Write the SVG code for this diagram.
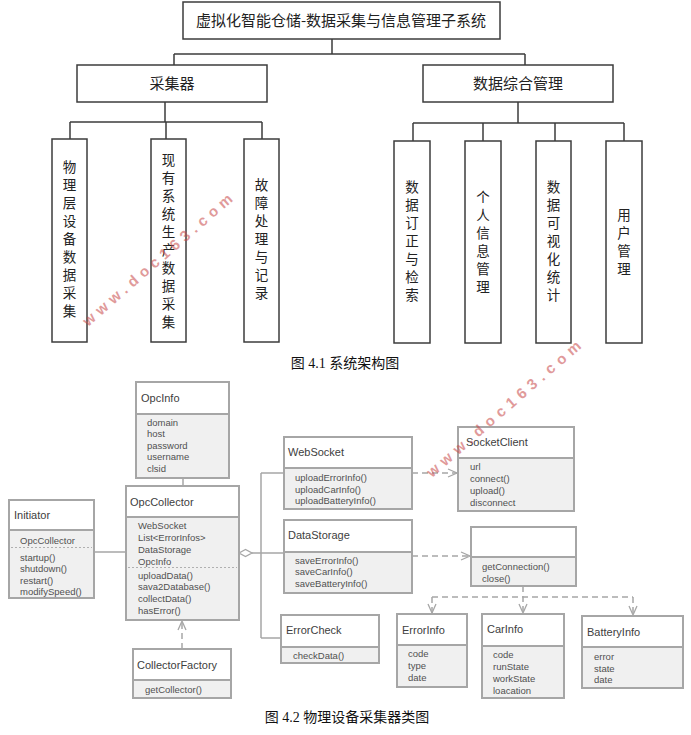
<svg xmlns="http://www.w3.org/2000/svg" width="691" height="735" viewBox="0 0 691 735">
<style>
.bx{fill:#fff;stroke:#3c3c3c;stroke-width:1.5}
.ln{fill:none;stroke:#3c3c3c;stroke-width:1.5}
.cj{font-family:"Noto Sans CJK SC",sans-serif;font-size:15px;fill:#222}
.vt{font-family:"Noto Sans CJK SC",sans-serif;font-size:13.5px;fill:#222;writing-mode:vertical-rl;letter-spacing:4.5px}
.cap{font-family:"Liberation Serif","Noto Sans CJK SC",serif;font-size:14px;fill:#111;text-anchor:middle}
.body{fill:#f0f0f0;stroke:#a6a6a6;stroke-width:2}
.head{fill:#fff;stroke:#a6a6a6;stroke-width:2}
.tt{font-family:"Liberation Sans",Arial,sans-serif;font-size:11px;fill:#404040}
.mb{font-family:"Liberation Sans",Arial,sans-serif;font-size:9.5px;fill:#505050}
.cl{fill:none;stroke:#a6a6a6;stroke-width:1.5}
.ds{fill:none;stroke:#a6a6a6;stroke-width:1.5;stroke-dasharray:6 4}
.sep{stroke:#b0b0b0;stroke-width:1;stroke-dasharray:2 2}
.wm{font-family:"Liberation Sans",Arial,sans-serif;font-size:15px;font-weight:bold;fill:#c84848;opacity:0.55}
</style>
<defs>
<marker id="oa" markerUnits="userSpaceOnUse" markerWidth="12" markerHeight="12" viewBox="0 0 12 12" refX="10" refY="5" orient="auto">
<path d="M1,1 L10,5 L1,9" fill="none" stroke="#a6a6a6" stroke-width="1.3"/>
</marker>
</defs>

<g id="arch-connectors">
<path class="ln" d="M332,39 V54 M174,54 H525 M174,54 V65 M525,54 V65"/>
<path class="ln" d="M165,102 V122 M70,122 H262 M70,122 V139 M166,122 V139 M262,122 V139"/>
<path class="ln" d="M518,102 V123 M413,123 H624 M413,123 V141 M483,123 V141 M555,123 V141 M624,123 V141"/>
</g>

<g id="root">
<rect class="bx" x="183" y="2" width="317" height="37"/>
<text class="cj" x="341" y="26" text-anchor="middle">虚拟化智能仓储-数据采集与信息管理子系统</text>
</g>
<g id="collector">
<rect class="bx" x="77" y="65" width="190" height="37"/>
<text class="cj" x="172" y="89" text-anchor="middle">采集器</text>
</g>
<g id="datamgmt">
<rect class="bx" x="423" y="65" width="190" height="37"/>
<text class="cj" x="518" y="89" text-anchor="middle">数据综合管理</text>
</g>

<g id="leaf1">
<rect class="bx" x="52" y="139" width="35" height="203"/>
<text class="vt" x="69.5" y="160">物理层设备数据采集</text>
</g>
<g id="leaf2">
<rect class="bx" x="151" y="139" width="35" height="203"/>
<text class="vt" x="168.5" y="153">现有系统生产数据采集</text>
</g>
<g id="leaf3">
<rect class="bx" x="244" y="139" width="35" height="203"/>
<text class="vt" x="261.5" y="178">故障处理与记录</text>
</g>
<g id="leaf4">
<rect class="bx" x="394" y="141" width="36" height="202"/>
<text class="vt" x="412" y="180">数据订正与检索</text>
</g>
<g id="leaf5">
<rect class="bx" x="465" y="141" width="36" height="202"/>
<text class="vt" x="483" y="190">个人信息管理</text>
</g>
<g id="leaf6">
<rect class="bx" x="536" y="141" width="35" height="202"/>
<text class="vt" x="553.5" y="180">数据可视化统计</text>
</g>
<g id="leaf7">
<rect class="bx" x="606" y="141" width="36" height="202"/>
<text class="vt" x="624" y="208">用户管理</text>
</g>

<text class="cap" x="345" y="368">图 4.1 系统架构图</text>

<g id="class-connectors">
<path class="cl" d="M183,478 V486"/>
<path class="cl" d="M94,552 H126"/>
<path class="cl" d="M252,553 H284 M261,473 V638 M261,473 H284 M261,638 H281"/>
<polygon points="239,553 245.5,549.5 252,553 245.5,556.5" fill="#fff" stroke="#a6a6a6" stroke-width="1.3"/>
<path class="ds" d="M412,473 H457" marker-end="url(#oa)"/>
<path class="ds" d="M412,556 H470" marker-end="url(#oa)"/>
<path class="ds" d="M523,586 V613" marker-end="url(#oa)"/>
<path class="ds" d="M432,597 H633"/>
<path class="ds" d="M432,597 V613" marker-end="url(#oa)"/>
<path class="ds" d="M633,597 V615" marker-end="url(#oa)"/>
<path class="ds" d="M182,649 V621" marker-end="url(#oa)"/>
</g>

<g id="OpcInfo">
<rect class="body" x="136" y="382" width="93" height="96"/>
<rect class="head" x="136" y="382" width="93" height="32"/>
<text class="tt" x="141" y="402">OpcInfo</text>
<text class="mb"><tspan x="147" y="425.5">domain</tspan><tspan x="147" y="437">host</tspan><tspan x="147" y="448.5">password</tspan><tspan x="147" y="460">username</tspan><tspan x="147" y="471.5">clsid</tspan></text>
</g>

<g id="OpcCollector">
<rect class="body" x="126" y="486" width="113" height="134"/>
<rect class="head" x="126" y="486" width="113" height="31"/>
<text class="tt" x="130" y="506">OpcCollector</text>
<text class="mb"><tspan x="138" y="528.5">WebSocket</tspan><tspan x="138" y="540.5">List&lt;ErrorInfos&gt;</tspan><tspan x="138" y="552.5">DataStorage</tspan><tspan x="138" y="564.5">OpcInfo</tspan></text>
<line class="sep" x1="128" y1="567.5" x2="237" y2="567.5"/>
<text class="mb"><tspan x="138" y="578.5">uploadData()</tspan><tspan x="138" y="590">sava2Database()</tspan><tspan x="138" y="602">collectData()</tspan><tspan x="138" y="614">hasError()</tspan></text>
</g>

<g id="Initiator">
<rect class="body" x="9" y="500" width="85" height="98"/>
<rect class="head" x="9" y="500" width="85" height="30"/>
<text class="tt" x="14" y="519">Initiator</text>
<text class="mb" x="20" y="543.5">OpcCollector</text>
<line class="sep" x1="11" y1="547.5" x2="92" y2="547.5"/>
<text class="mb"><tspan x="20" y="560.5">startup()</tspan><tspan x="20" y="572">shutdown()</tspan><tspan x="20" y="583.5">restart()</tspan><tspan x="20" y="595">modifySpeed()</tspan></text>
</g>

<g id="WebSocket">
<rect class="body" x="284" y="437" width="128" height="72"/>
<rect class="head" x="284" y="437" width="128" height="31"/>
<text class="tt" x="288" y="456">WebSocket</text>
<text class="mb"><tspan x="295" y="480.5">uploadErrorInfo()</tspan><tspan x="295" y="492.5">uploadCarInfo()</tspan><tspan x="295" y="504">uploadBatteryInfo()</tspan></text>
</g>

<g id="DataStorage">
<rect class="body" x="284" y="520" width="128" height="73"/>
<rect class="head" x="284" y="520" width="128" height="32"/>
<text class="tt" x="288" y="539">DataStorage</text>
<text class="mb"><tspan x="295" y="563.5">saveErrorInfo()</tspan><tspan x="295" y="575">saveCarInfo()</tspan><tspan x="295" y="586.5">saveBatteryInfo()</tspan></text>
</g>

<g id="ErrorCheck">
<rect class="body" x="281" y="615" width="98" height="48"/>
<rect class="head" x="281" y="615" width="98" height="32"/>
<text class="tt" x="286" y="634">ErrorCheck</text>
<text class="mb" x="293" y="658.5">checkData()</text>
</g>

<g id="SocketClient">
<rect class="body" x="458" y="427" width="116" height="84"/>
<rect class="head" x="458" y="427" width="116" height="31"/>
<text class="tt" x="466" y="446">SocketClient</text>
<text class="mb"><tspan x="470" y="469.5">url</tspan><tspan x="470" y="481.5">connect()</tspan><tspan x="470" y="493.5">upload()</tspan><tspan x="470" y="505.5">disconnect</tspan></text>
</g>

<g id="Connection">
<rect class="body" x="471" y="527" width="105" height="59"/>
<rect class="head" x="471" y="527" width="105" height="30"/>
<text class="mb"><tspan x="482" y="569.5">getConnection()</tspan><tspan x="482" y="581.5">close()</tspan></text>
</g>

<g id="ErrorInfo">
<rect class="body" x="397" y="614" width="70" height="73"/>
<rect class="head" x="397" y="614" width="70" height="31"/>
<text class="tt" x="402" y="634">ErrorInfo</text>
<text class="mb"><tspan x="408" y="656.5">code</tspan><tspan x="408" y="668.5">type</tspan><tspan x="408" y="680.5">date</tspan></text>
</g>

<g id="CarInfo">
<rect class="body" x="482" y="614" width="82" height="84"/>
<rect class="head" x="482" y="614" width="82" height="32"/>
<text class="tt" x="487" y="633">CarInfo</text>
<text class="mb"><tspan x="493" y="657.5">code</tspan><tspan x="493" y="669.5">runState</tspan><tspan x="493" y="681.5">workState</tspan><tspan x="493" y="693.5">loacation</tspan></text>
</g>

<g id="BatteryInfo">
<rect class="body" x="582" y="616" width="101" height="72"/>
<rect class="head" x="582" y="616" width="101" height="31"/>
<text class="tt" x="587" y="636">BatteryInfo</text>
<text class="mb"><tspan x="594" y="659.5">error</tspan><tspan x="594" y="671.5">state</tspan><tspan x="594" y="682.5">date</tspan></text>
</g>

<g id="CollectorFactory">
<rect class="body" x="133" y="649" width="98" height="49"/>
<rect class="head" x="133" y="649" width="98" height="31"/>
<text class="tt" x="137" y="669">CollectorFactory</text>
<text class="mb" x="145" y="692.5">getCollector()</text>
</g>

<text class="cap" x="347" y="722">图 4.2 物理设备采集器类图</text>

<text class="wm" transform="translate(88,327) rotate(-41)" textLength="193" lengthAdjust="spacing">www.doc163.com</text>
<text class="wm" transform="translate(432,478) rotate(-41)" textLength="199" lengthAdjust="spacing">www.doc163.com</text>
</svg>
